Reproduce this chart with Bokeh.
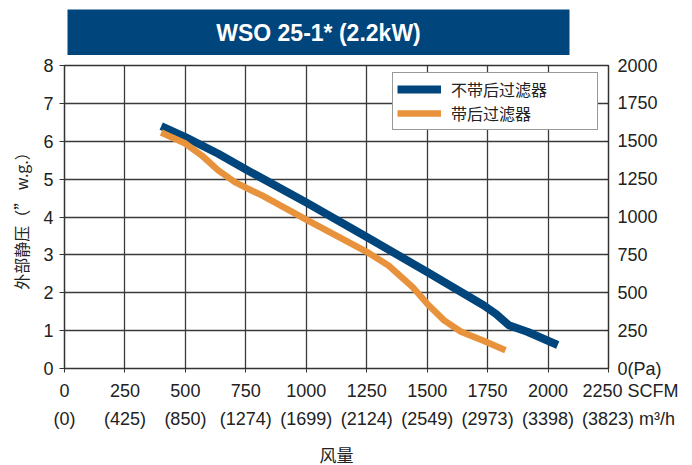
from bokeh.plotting import figure
from bokeh.models import LinearAxis, Range1d, FixedTicker, Legend, LegendItem
from bokeh.layouts import column
from bokeh.core.properties import value
from bokeh.embed import file_html
from bokeh.resources import INLINE

TITLE = "WSO 25-1* (2.2kW)"
cfm_ticks = [0, 250, 500, 750, 1000, 1250, 1500, 1750, 2000, 2250]
cfm_labels = ["0", "250", "500", "750", "1000", "1250", "1500", "1750", "2000", "2250 SCFM"]
m3h_labels = ["(0)", "(425)", "(850)", "(1274)", "(1699)", "(2124)", "(2549)", "(2973)", "(3398)", "(3823) m³/h"]
wg_ticks = [0, 1, 2, 3, 4, 5, 6, 7, 8]
pa_ticks = [0, 250, 500, 750, 1000, 1250, 1500, 1750, 2000]
pa_labels = ["0(Pa)", "250", "500", "750", "1000", "1250", "1500", "1750", "2000"]

series1_name = "不带后过滤器"
series1_cfm = [400, 500, 636, 758, 1000, 1250, 1500, 1733, 1785, 1838, 1914, 2040]
series1_wg = [6.40, 6.11, 5.67, 5.23, 4.38, 3.47, 2.55, 1.67, 1.44, 1.14, 0.97, 0.62]

series2_name = "带后过滤器"
series2_cfm = [400, 500, 567, 636, 705, 758, 817, 1000, 1250, 1340, 1440, 1500, 1570, 1640, 1733, 1824]
series2_wg = [6.23, 5.94, 5.63, 5.23, 4.92, 4.75, 4.57, 3.93, 3.08, 2.72, 2.15, 1.71, 1.27, 0.97, 0.73, 0.48]

BLUE = "#00457c"
ORANGE = "#e8933c"
TXT = "#222222"
GRID = "#3a3a3a"
NUMFONT = "Liberation Sans"
CJK = "Noto Sans CJK SC"

# the last tick labels carry their unit to the right; leading no-break spaces,
# each kept apart by a zero-width space so they are not collapsed, keep the number on its tick
PADUNIT = "\u200b\u00a0"
cfm_text = cfm_labels[:-1] + [PADUNIT * 13 + cfm_labels[-1]]
m3h_text = m3h_labels[:-1] + [PADUNIT * 8 + m3h_labels[-1]]

# title bar
t = figure(width=692, height=55, x_range=Range1d(0, 1), y_range=Range1d(0, 1),
           toolbar_location=None, output_backend="svg", title=None,
           x_axis_type=None, y_axis_type=None,
           min_border_top=9, min_border_bottom=0, min_border_left=67, min_border_right=123)
t.frame_align = False
t.grid.visible = False
t.outline_line_color = None
t.background_fill_color = BLUE
t.border_fill_color = "white"
t.text(x=[0.5], y=[0.5], text=[TITLE], text_align="center", text_baseline="middle",
       text_color="white", text_font=value(NUMFONT), text_font_style="bold",
       text_font_size="23px")

# main chart
p = figure(frame_width=544, frame_height=303, x_range=Range1d(0, 2250), y_range=Range1d(0, 8),
           toolbar_location=None, output_backend="svg", title=None,
           min_border_left=64, min_border_right=70, min_border_top=10, min_border_bottom=0)
p.frame_align = False
p.extra_y_ranges = {"pa": Range1d(0, 2000)}
p.outline_line_color = "#333333"
p.outline_line_width = 1.5
p.background_fill_color = "white"

# bottom axis row 1 (SCFM)
xa = p.xaxis[0]
xa.ticker = FixedTicker(ticks=cfm_ticks)
xa.major_label_overrides = {v: s for v, s in zip(cfm_ticks, cfm_text)}
xa.minor_tick_line_color = None
xa.major_tick_in = 0
xa.major_tick_out = 4
xa.major_label_standoff = 8
xa.axis_line_color = "#333333"
xa.major_tick_line_color = "#333333"
xa.major_label_text_font = NUMFONT
xa.major_label_text_font_size = "18px"
xa.major_label_text_color = TXT

# bottom axis row 2 (m3/h)
xa2 = LinearAxis(ticker=FixedTicker(ticks=cfm_ticks),
                 major_label_overrides={v: s for v, s in zip(cfm_ticks, m3h_text)})
xa2.axis_line_color = None
xa2.major_tick_line_color = None
xa2.minor_tick_line_color = None
xa2.major_tick_out = 0
xa2.major_tick_in = 0
xa2.major_label_standoff = 5
xa2.major_label_text_font = NUMFONT
xa2.major_label_text_font_size = "18px"
xa2.major_label_text_color = TXT
xa2.axis_label = "风量"
xa2.axis_label_text_font = CJK
xa2.axis_label_text_font_size = "17px"
xa2.axis_label_text_font_style = "normal"
xa2.axis_label_text_color = TXT
xa2.axis_label_standoff = 10
p.add_layout(xa2, "below")

# left axis
ya = p.yaxis[0]
ya.ticker = FixedTicker(ticks=wg_ticks)
ya.minor_tick_line_color = None
ya.major_tick_in = 0
ya.major_tick_out = 5
ya.major_label_standoff = 6
ya.axis_line_color = "#333333"
ya.major_tick_line_color = "#333333"
ya.major_label_text_font = NUMFONT
ya.major_label_text_font_size = "18px"
ya.major_label_text_color = TXT
ya.axis_label = "外部静压（” w.g.）"
ya.axis_label_text_font = CJK
ya.axis_label_text_font_size = "16px"
ya.axis_label_text_font_style = "normal"
ya.axis_label_text_color = TXT
ya.axis_label_standoff = 7

# right axis
ra = LinearAxis(y_range_name="pa", ticker=FixedTicker(ticks=pa_ticks),
                major_label_overrides={v: s for v, s in zip(pa_ticks, pa_labels)})
ra.minor_tick_line_color = None
ra.major_tick_in = 4
ra.major_tick_out = 0
ra.major_label_standoff = 9
ra.axis_line_color = "#333333"
ra.major_tick_line_color = "#333333"
ra.major_label_text_font = NUMFONT
ra.major_label_text_font_size = "18px"
ra.major_label_text_color = TXT
p.add_layout(ra, "right")

# grids
for g in (p.xgrid[0], p.ygrid[0]):
    g.grid_line_color = GRID
    g.grid_line_width = 1.3
p.xgrid[0].ticker = FixedTicker(ticks=cfm_ticks)
p.ygrid[0].ticker = FixedTicker(ticks=wg_ticks)

r1 = p.line(series1_cfm, series1_wg, line_color=BLUE, line_width=8, line_join="round")
r2 = p.line(series2_cfm, series2_wg, line_color=ORANGE, line_width=6.5, line_join="round")

legend = Legend(items=[LegendItem(label=series1_name, renderers=[r1]),
                       LegendItem(label=series2_name, renderers=[r2])],
                location=(328, 238))
legend.glyph_width = 44
legend.glyph_height = 18
legend.label_height = 18
legend.label_width = 142
legend.label_standoff = 10
legend.spacing = 0
legend.padding = 4
legend.margin = 0
legend.border_line_color = "#333333"
legend.border_line_width = 1
legend.background_fill_color = "white"
legend.background_fill_alpha = 1
legend.label_text_font = CJK
legend.label_text_font_size = "16px"
legend.label_text_color = TXT
p.add_layout(legend)

layout = column(t, p, spacing=0)
open("out.html", "w").write(file_html(layout, INLINE))
